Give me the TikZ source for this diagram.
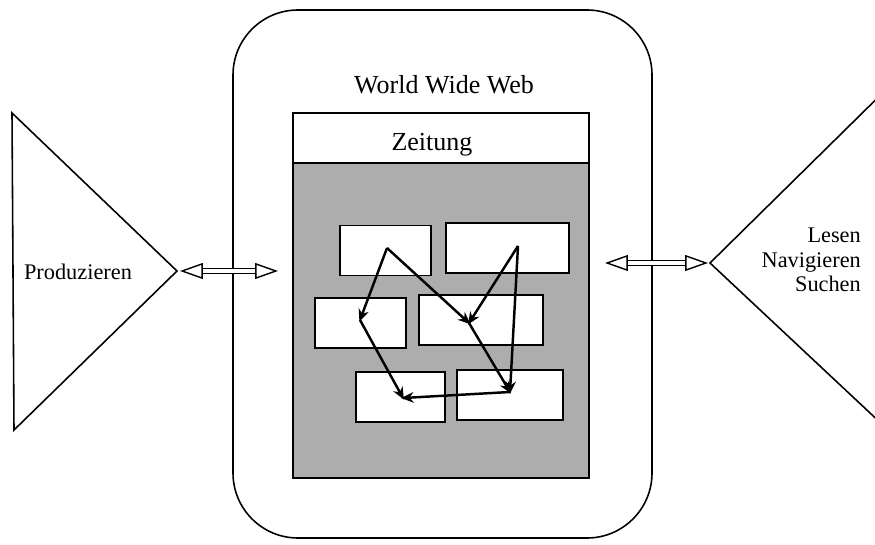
\documentclass[tikz,border=0pt]{standalone}
\usepackage{fontspec}
\setmainfont{Liberation Serif}
\usetikzlibrary{positioning, arrows.meta, calc}

\begin{document}
\begin{tikzpicture}[
  >=Stealth,
  every node/.style={font=\fontsize{12.7}{14}\selectfont},
  big/.style={font=\fontsize{14.8}{17}\selectfont},
  frame/.style={draw, line width=0.9pt},
  page/.style={frame, fill=white, minimum height=1cm, inner sep=0pt},
  link/.style={->, line width=1.4pt, shorten >=-1pt, >={Stealth[length=7pt, width=6pt]}},
  swap/.style={line width=0.8pt, double, double distance=2.2pt,
    {Triangle[open, length=13pt, width=9pt]}-{Triangle[open, length=13pt, width=9pt]}}
]
\useasboundingbox (0,0) rectangle (17.5,10.88);

% World Wide Web frame
\node[frame, rounded corners=1.3cm, minimum width=8.38cm, minimum height=10.56cm] (web) at (8.85, 5.40) {};
\node[big] (wwwlbl) at (8.88, 9.18) {World Wide Web};

% Zeitung: header and gray page
\node[frame, fill=black!32, minimum width=5.92cm, minimum height=6.30cm, inner sep=0pt] (paper) at (8.82, 4.47) {};
\node[frame, fill=white, minimum width=5.92cm, minimum height=1.0cm, inner sep=0pt] (head) at (8.82, 8.12) {};
\node[big] (zlbl) at (8.64, 7.98) {Zeitung};

% Pages
\node[page, minimum width=1.82cm] (pA) at (7.71, 5.87) {};
\node[page, minimum width=2.46cm] (pB) at (10.15, 5.92) {};
\node[page, minimum width=1.82cm] (pC) at (7.21, 4.42) {};
\node[page, minimum width=2.48cm] (pD) at (9.62, 4.48) {};
\node[page, minimum width=1.78cm] (pE) at (8.01, 2.94) {};
\node[page, minimum width=2.12cm] (pF) at (10.20, 2.98) {};

% Link points
\coordinate (a) at (7.74, 5.92);
\coordinate (b) at (10.36, 5.96);
\coordinate (c) at (7.20, 4.48);
\coordinate (d) at (9.38, 4.42);
\coordinate (f) at (10.20, 3.04);
\coordinate (e) at (8.06, 2.92);

% Links
\draw[link] (a) -- (c);
\draw[link] (c) -- (e);
\draw[link] (a) -- (d);
\draw[link] (b) -- (d);
\draw[link] (d) -- (f);
\draw[link] (b) -- (f);
\draw[link] (f) -- (e);

% Left triangle
\coordinate (prodtip) at (3.54, 5.46);
\draw[frame] (0.24, 8.62) -- (prodtip) -- (0.28, 2.28) -- cycle;
\node (prod) at (1.56, 5.44) {Produzieren};

% Right triangle
\coordinate (readtip) at (14.20, 5.62);
\draw[frame] (17.55, 8.92) -- (readtip) -- (17.55, 2.48);
\node[align=right, anchor=east] (read) at (17.34, 5.68) {Lesen\\Navigieren\\Suchen};

% Double arrows
\coordinate (webl) at (5.56, 5.46);
\coordinate (webr) at (12.10, 5.62);
\draw[swap] ($(prodtip)+(0.06,0)$) -- (webl);
\draw[swap] (webr) -- ($(readtip)+(-0.04,0)$);

\end{tikzpicture}
\end{document}
